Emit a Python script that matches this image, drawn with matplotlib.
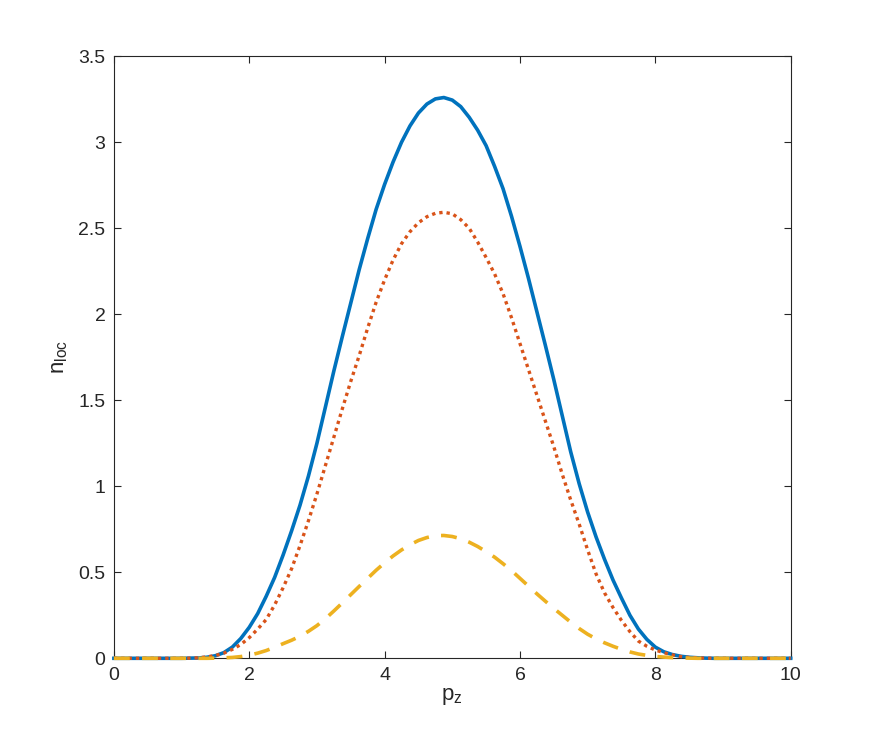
import numpy as np
import matplotlib
matplotlib.use("Agg")
import matplotlib.pyplot as plt

plt.rcParams['font.family'] = ['Liberation Sans', 'DejaVu Sans']
plt.rcParams['mathtext.fontset'] = 'custom'
plt.rcParams['mathtext.rm'] = 'Liberation Sans'

# values, x step 0.125 from 0 to 10 (81 points)
pz = np.linspace(0, 10, 81)
n_total = [0, 0, 0, 0, 0, 0, 0, 0,
           0, 0.001, 0.002, 0.006, 0.015, 0.033, 0.065, 0.115,
           0.18, 0.26, 0.36, 0.47, 0.6, 0.74, 0.89, 1.06,
           1.25, 1.46, 1.67, 1.87, 2.065, 2.26, 2.44, 2.61,
           2.755, 2.885, 3.0, 3.095, 3.17, 3.222, 3.252, 3.26,
           3.245, 3.207, 3.145, 3.07, 2.98, 2.86, 2.73, 2.57,
           2.395, 2.21, 2.015, 1.82, 1.62, 1.41, 1.2, 1.015,
           0.85, 0.705, 0.575, 0.455, 0.35, 0.25, 0.17, 0.11,
           0.065, 0.038, 0.022, 0.012, 0.006, 0.003, 0.001, 0,
           0, 0, 0, 0, 0, 0, 0, 0, 0]
n_dot = [0, 0, 0, 0, 0, 0, 0, 0,
         0, 0.001, 0.003, 0.008, 0.016, 0.03, 0.052, 0.08,
         0.12, 0.17, 0.225, 0.31, 0.41, 0.52, 0.655, 0.8,
         0.955, 1.12, 1.285, 1.45, 1.61, 1.76, 1.92, 2.07,
         2.2, 2.315, 2.41, 2.48, 2.532, 2.567, 2.587, 2.593,
         2.584, 2.55, 2.5, 2.42, 2.33, 2.235, 2.12, 1.98,
         1.83, 1.68, 1.53, 1.38, 1.23, 1.07, 0.92, 0.78,
         0.63, 0.49, 0.38, 0.295, 0.22, 0.155, 0.1, 0.07,
         0.048, 0.033, 0.02, 0.01, 0.005, 0.002, 0.001, 0,
         0, 0, 0, 0, 0, 0, 0, 0, 0]
n_dash = [0, 0, 0, 0, 0, 0, 0, 0,
          0, 0, 0, 0, 0.001, 0.003, 0.005, 0.01,
          0.018, 0.03, 0.045, 0.064, 0.085, 0.105, 0.128, 0.157,
          0.19, 0.23, 0.275, 0.322, 0.37, 0.418, 0.465, 0.512,
          0.555, 0.595, 0.63, 0.66, 0.685, 0.702, 0.713, 0.714,
          0.708, 0.695, 0.675, 0.65, 0.62, 0.588, 0.55, 0.51,
          0.465, 0.42, 0.375, 0.332, 0.29, 0.25, 0.21, 0.173,
          0.14, 0.113, 0.09, 0.07, 0.052, 0.037, 0.025, 0.017,
          0.011, 0.007, 0.004, 0.002, 0.001, 0, 0, 0,
          0, 0, 0, 0, 0, 0, 0, 0, 0]

xticks = [0, 2, 4, 6, 8, 10]
yticks = [0, 0.5, 1, 1.5, 2, 2.5, 3, 3.5]
ytick_labels = ['0', '0.5', '1', '1.5', '2', '2.5', '3', '3.5']

fig = plt.figure(figsize=(8.76, 7.4), dpi=100)
ax = fig.add_axes([0.130, 0.1104, 0.7726, 0.8136])

ax.plot(pz, n_total, color='#0072BD', lw=2.6, clip_on=False, zorder=3)
ax.plot(pz, n_dot, color='#D95319', lw=2.4, dashes=(1, 1.2), clip_on=False, zorder=4)
ax.plot(pz, n_dash, color='#EDB120', lw=2.6, dashes=(4.4, 3.4), clip_on=False, zorder=5)

ax.set_xlim(0, 10)
ax.set_ylim(0, 3.5)
ax.set_xticks(xticks)
ax.set_yticks(yticks)
ax.set_yticklabels(ytick_labels)

for s in ax.spines.values():
    s.set_color('#262626')
    s.set_linewidth(0.8)
ax.tick_params(direction='in', length=5, width=0.8, colors='#262626',
               labelsize=14, top=True, right=True, pad=6)

ax.set_xlabel(r'p$_\mathregular{z}$', fontsize=16, color='#262626', labelpad=2)
ax.set_ylabel(r'n$_\mathregular{loc}$', fontsize=16, color='#262626', labelpad=6)

fig.savefig('out.png', dpi=100)
